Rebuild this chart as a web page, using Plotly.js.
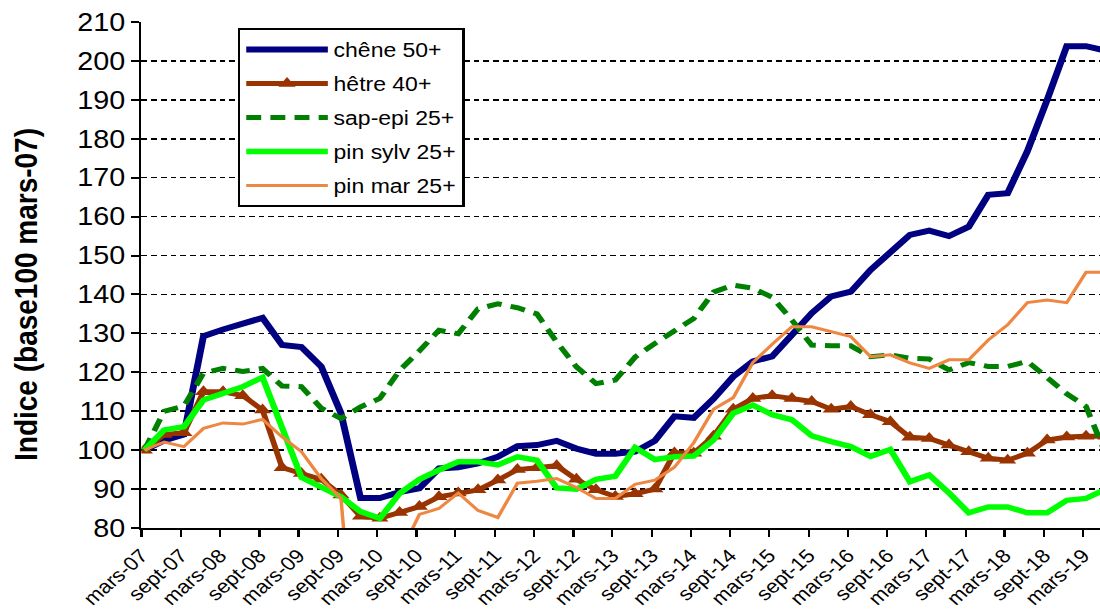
<!DOCTYPE html>
<html>
<head>
<meta charset="utf-8">
<script src="https://cdn.plot.ly/plotly-3.0.1.min.js"></script>
<style>
html,body{margin:0;padding:0;background:#fff;overflow:hidden;width:1100px;height:609px;}
#chart{width:957px;height:609px;transform:scaleX(1.14943);transform-origin:0 0;}
</style>
</head>
<body>
<div id="chart"></div>
<script>
var dates = ["2007-03-15","2007-06-15","2007-09-15","2007-12-15",
"2008-03-15","2008-06-15","2008-09-15","2008-12-15",
"2009-03-15","2009-06-15","2009-09-15","2009-12-15",
"2010-03-15","2010-06-15","2010-09-15","2010-12-15",
"2011-03-15","2011-06-15","2011-09-15","2011-12-15",
"2012-03-15","2012-06-15","2012-09-15","2012-12-15",
"2013-03-15","2013-06-15","2013-09-15","2013-12-15",
"2014-03-15","2014-06-15","2014-09-15","2014-12-15",
"2015-03-15","2015-06-15","2015-09-15","2015-12-15",
"2016-03-15","2016-06-15","2016-09-15","2016-12-15",
"2017-03-15","2017-06-15","2017-09-15","2017-12-15",
"2018-03-15","2018-06-15","2018-09-15","2018-12-15",
"2019-03-15","2019-06-15"];

var chene = [100,102.5,104,129.3,131,132.3,134,127,126.5,121.5,109.5,87.7,87.7,89.2,90.2,95.3,95.6,96.6,98.3,101,101.3,102.4,100.4,99.1,99.1,99.6,102.4,108.7,108.3,113.2,118.9,122.8,124.1,129.6,135.2,139.5,140.7,146.3,151,155.3,156.4,155,157.4,165.6,166,176.8,190,203.8,203.8,202.6];
var hetre = [100,104,104.5,115,115,114,110.3,95.5,94,92.5,88.5,83,82.5,84,85.5,88,89,89.8,92.3,95,95.5,96,92.5,89.8,88.1,88.8,90,99.3,99.2,103.6,110.5,113.3,114,113.3,112.5,110.5,111.2,109.1,107.3,103.3,103,101.3,99.6,97.9,97.4,99.2,102.6,103.4,103.6,103.6];
var sapepi = [100,110,111.3,119.8,121,120.2,121,116.5,116.3,110.8,108.1,111.1,113.3,120.5,125.5,130.8,129.9,136.3,137.6,136.6,135,127.8,121.4,117.1,118,123.9,127.4,130.8,133.8,140.6,142.4,141.6,139.3,133.4,127,126.8,126.8,124,124.5,123.6,123.4,120.6,122.5,121.5,121.5,122.8,118.5,114.5,111.2,99];
var pinsylv = [100,105.2,106,112.9,114.6,116.3,118.7,105.5,93,90.5,88,84.2,82.5,88.9,92.5,94.9,97,97,96.2,98.3,97.4,90.3,90,92.5,93.3,100.7,97.6,98.3,98.5,102.6,109.5,111.6,109.1,107.8,103.7,102.2,100.9,98.4,100.2,91.9,93.6,89,83.9,85.4,85.4,83.9,83.9,87.1,87.6,90];
var pinmar = [100,102.1,100.9,105.6,107,106.7,107.9,103.4,99.6,92.7,87.6,30,45,73,83.5,85,89,84.5,82.7,91.5,92,92.7,90.4,87.6,87.6,91.2,92.3,95.6,101.9,110.5,113.5,122.5,127.2,131.7,131.7,130.5,129.2,124,124.5,122.4,121,123.2,123.2,128.3,132.2,137.9,138.6,137.9,145.7,145.7];

var tickDates = ["2007-03-01","2007-09-01","2008-03-01","2008-09-01","2009-03-01","2009-09-01","2010-03-01","2010-09-01","2011-03-01","2011-09-01","2012-03-01","2012-09-01","2013-03-01","2013-09-01","2014-03-01","2014-09-01","2015-03-01","2015-09-01","2016-03-01","2016-09-01","2017-03-01","2017-09-01","2018-03-01","2018-09-01","2019-03-01"];
var tickLabels = ["mars-07","sept-07","mars-08","sept-08","mars-09","sept-09","mars-10","sept-10","mars-11","sept-11","mars-12","sept-12","mars-13","sept-13","mars-14","sept-14","mars-15","sept-15","mars-16","sept-16","mars-17","sept-17","mars-18","sept-18","mars-19"];

var seriesNames = ["chêne 50+","hêtre 40+","sap-epi 25+","pin sylv 25+","pin mar 25+"];
var yTitle = "Indice (base100 mars-07)";

var FONT = "Liberation Sans, Arial, sans-serif";

var traces = [
  {x: dates, y: chene, name: seriesNames[0], type: "scatter", mode: "lines", legendgroup: "a",
   line: {color: "#000080", width: 6}},
  {x: dates, y: hetre, name: seriesNames[1], type: "scatter", mode: "lines+markers", legendgroup: "b",
   line: {color: "#993300", width: 5}, marker: {symbol: "triangle-up", size: 13, color: "#993300"}},
  {x: dates, y: sapepi, name: seriesNames[2], type: "scatter", mode: "lines", legendgroup: "c",
   line: {color: "#008000", width: 5, dash: "13px,8px"}},
  {x: dates, y: pinsylv, name: seriesNames[3], type: "scatter", mode: "lines", legendgroup: "d",
   line: {color: "#00FF00", width: 5.5}},
  {x: dates, y: pinmar, name: seriesNames[4], type: "scatter", mode: "lines", legendgroup: "e",
   line: {color: "#EE8741", width: 3}}
];

var layout = {
  width: 957, height: 609,
  margin: {l: 123, r: 0, t: 22, b: 81, pad: 0},
  paper_bgcolor: "#fff", plot_bgcolor: "#fff",
  font: {family: FONT, color: "#000"},
  showlegend: true,
  legend: {
    x: 0.101, y: 0.988, xanchor: "left", yanchor: "top",
    bordercolor: "#000", borderwidth: 2, bgcolor: "#fff",
    font: {family: FONT, size: 20, color: "#000"},
    tracegroupgap: 5, traceorder: "grouped", itemwidth: 71
  },
  xaxis: {
    type: "date",
    range: ["2007-03-01", "2019-05-19"],
    tickmode: "array", tickvals: tickDates, ticktext: tickLabels,
    tickangle: -45, ticks: "outside", ticklen: 7, tickwidth: 2, tickcolor: "#000",
    showline: true, linewidth: 2, linecolor: "#000", mirror: false,
    showgrid: false, zeroline: false,
    tickfont: {family: FONT, size: 19, color: "#000"}
  },
  yaxis: {
    range: [80, 210], dtick: 10, tick0: 80,
    ticks: "outside", ticklen: 7, tickwidth: 2, tickcolor: "#000",
    showline: true, linewidth: 2, linecolor: "#000",
    showgrid: true, gridcolor: "#000", gridwidth: 1.5, griddash: "5px,3.5px",
    zeroline: false,
    tickfont: {family: FONT, size: 25, color: "#000"}
  },
  annotations: [{
    text: "<b>" + yTitle + "</b>", textangle: -90,
    xref: "paper", yref: "paper", x: 0, y: 0.4605,
    xanchor: "center", yanchor: "middle", xshift: -100, showarrow: false,
    font: {family: FONT, size: 28, color: "#000"}
  }]
};

Plotly.newPlot("chart", traces, layout, {displayModeBar: false, staticPlot: true});
</script>
</body>
</html>
